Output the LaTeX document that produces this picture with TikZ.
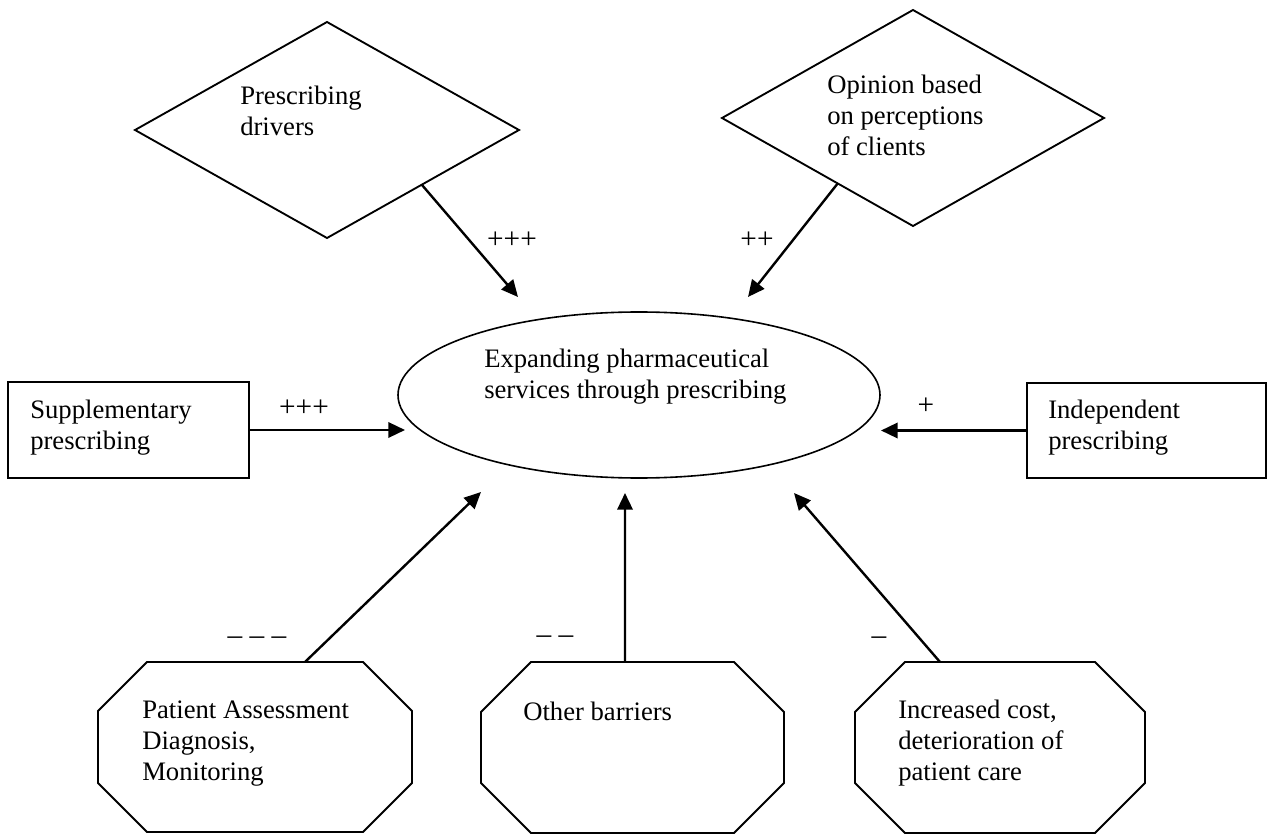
\documentclass[tikz,border=0pt]{standalone}
\usepackage{fontspec}
\setmainfont{Liberation Serif}
\usetikzlibrary{shapes.geometric,arrows.meta}
\newcommand\octoline[2]{%
  \draw[shp] ([xshift=#2]#1.north west) -- ([xshift=-#2]#1.north east) -- ([yshift=-#2]#1.north east) -- ([yshift=#2]#1.south east) -- ([xshift=-#2]#1.south east) -- ([xshift=#2]#1.south west) -- ([yshift=#2]#1.south west) -- ([yshift=-#2]#1.north west) -- cycle;}
\begin{document}
\begin{tikzpicture}[x=0.75pt,y=-0.75pt,
  shp/.style={draw, line width=1.4pt, inner sep=0pt, outer sep=0pt},
  arr/.style={-{Triangle[length=12.5pt,width=11.5pt]}, line width=1.8pt},
  txt/.style={font=\fontsize{20}{23.25}\selectfont, align=left, inner sep=0pt, anchor=base west},
  lbl/.style={font=\fontsize{22}{24}\selectfont, inner sep=0pt},
  octbox/.style={rectangle, inner sep=0pt, outer sep=0pt}]
\useasboundingbox (0,0) rectangle (1268,834);
% diamonds
\node[shp, diamond, minimum width=288pt, minimum height=162pt] (d1) at (327,130) {};
\node[shp, diamond, minimum width=286.5pt, minimum height=162pt] (d2) at (913,118) {};
\node[txt] (d1t) at (240,136) {Prescribing\\drivers};
\node[txt] (d2t) at (827,156) {Opinion based\\on perceptions\\of clients};
% ellipse
\node[draw, line width=1.2pt, ellipse, inner sep=0pt, outer sep=0pt, minimum width=361.5pt, minimum height=124.5pt] (e) at (639,395) {};
\node[txt] (et) at (484,398) {Expanding pharmaceutical\\services through prescribing};
% boxes
\node[shp, rectangle, minimum width=180.75pt, minimum height=72pt] (supp) at (128.5,430) {};
\node[txt] (suppt) at (30,449) {Supplementary\\prescribing};
\node[shp, rectangle, minimum width=179.25pt, minimum height=71.25pt] (indep) at (1146.5,430.5) {};
\node[txt] (indept) at (1048,449) {Independent\\prescribing};
% octagons
\node[octbox, minimum width=235.5pt, minimum height=127.5pt] (o1) at (255,747) {};
\octoline{o1}{36.75pt}
\node[txt] (o1t) at (142,780) {Patient Assessment\\Diagnosis,\\Monitoring};
\node[octbox, minimum width=227.25pt, minimum height=128.25pt] (o2) at (632.5,747.5) {};
\octoline{o2}{37.5pt}
\node[txt] (o2t) at (523,720) {Other barriers};
\node[octbox, minimum width=217.5pt, minimum height=128.25pt] (o3) at (1000,747.5) {};
\octoline{o3}{37.5pt}
\node[txt] (o3t) at (898,780) {Increased cost,\\deterioration of\\patient care};
% arrow tips
\coordinate (t1) at (518,297);
\coordinate (t2) at (748,297);
\coordinate (t3) at (405,430);
\coordinate (t4) at (881,430.5);
\coordinate (t5) at (481,492);
\coordinate (t6) at (625,493);
\coordinate (t7) at (794,493);
% connectors
\draw[arr] (d1.-30.3) -- (t1);
\draw[arr] (d2.-139.6) -- (t2);
\draw[arr] (supp.east) -- (t3);
\draw[arr] (indep.west) -- (t4);
\draw[arr] ([xshift=37.5pt]o1.north) -- (t5);
\draw[arr] ([xshift=-5.6pt]o2.north) -- (t6);
\draw[arr] ([xshift=-45pt]o3.north) -- (t7);
% labels
\node[lbl] (l1) at (512,240) {+++};
\node[lbl] (l2) at (757,240) {++};
\node[lbl] (l3) at (304,408) {+++};
\node[lbl] (l4) at (926,406) {+};
\node[lbl] (l5) at (257,641) {– – –};
\node[lbl] (l6) at (555,640) {– –};
\node[lbl] (l7) at (879,641) {–};
\end{tikzpicture}
\end{document}
